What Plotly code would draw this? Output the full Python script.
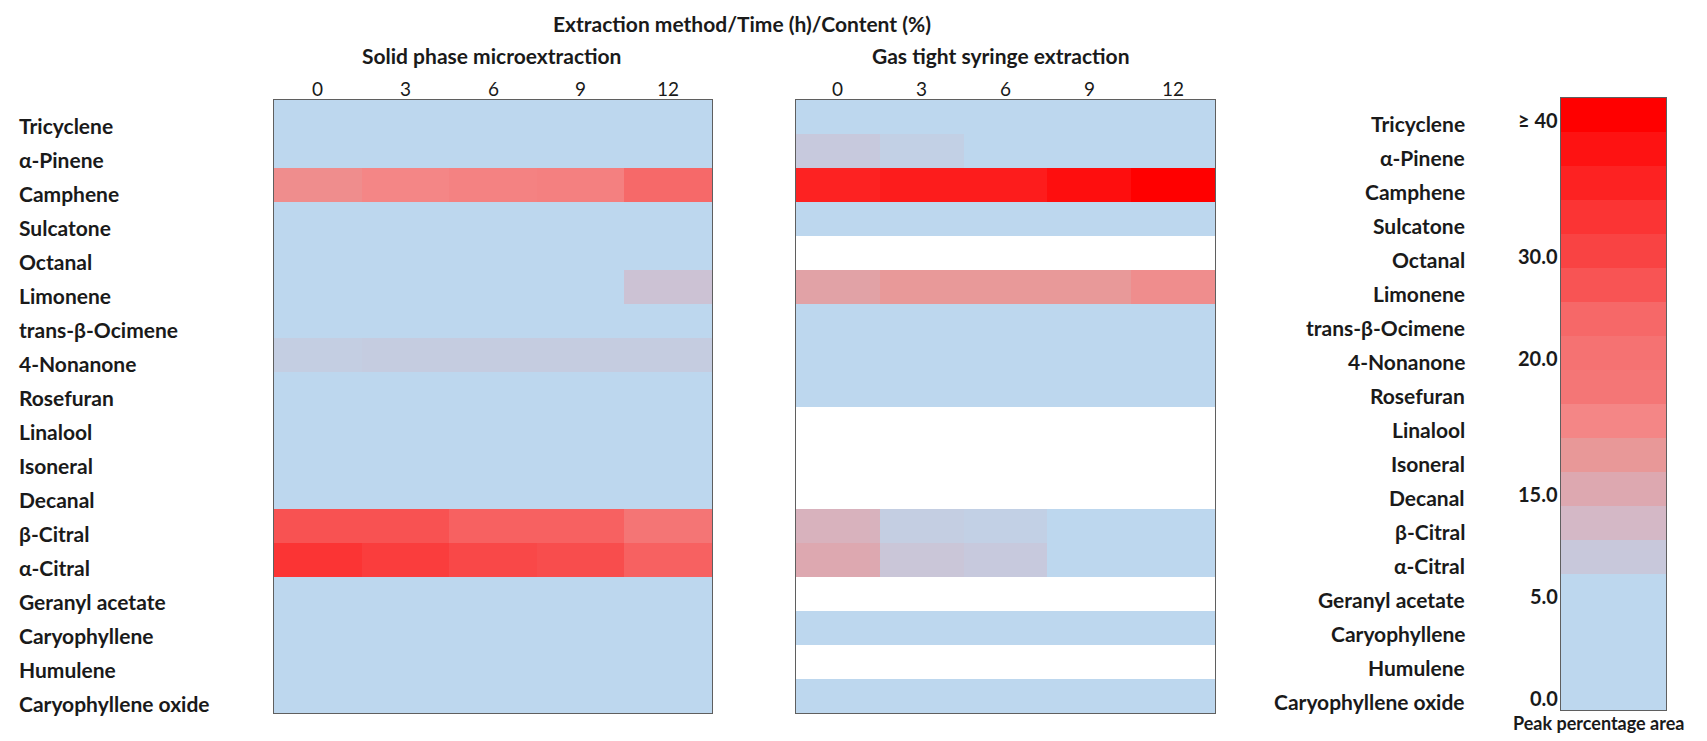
import plotly.graph_objects as go

compounds = ["Tricyclene", "α-Pinene", "Camphene", "Sulcatone", "Octanal", "Limonene",
             "trans-β-Ocimene", "4-Nonanone", "Rosefuran", "Linalool", "Isoneral", "Decanal",
             "β-Citral", "α-Citral", "Geranyl acetate", "Caryophyllene", "Humulene",
             "Caryophyllene oxide"]
times = ["0", "3", "6", "9", "12"]
N = None

# Peak percentage area (%); None = not detected
spme = [
    [1.0, 1.0, 1.0, 1.0, 1.0],
    [2.0, 2.0, 2.0, 2.0, 2.0],
    [17.0, 17.5, 17.8, 18.0, 23.0],
    [1.0, 1.0, 1.0, 1.0, 1.0],
    [1.0, 1.0, 1.0, 1.0, 1.0],
    [3.0, 3.0, 3.0, 3.0, 9.5],
    [1.0, 1.0, 1.0, 1.0, 1.0],
    [7.0, 7.5, 7.5, 7.5, 7.5],
    [1.0, 1.0, 1.0, 1.0, 1.0],
    [2.0, 2.0, 2.0, 2.0, 2.0],
    [1.0, 1.0, 1.0, 1.0, 1.0],
    [1.0, 1.0, 1.0, 1.0, 1.0],
    [27.0, 27.0, 24.5, 24.5, 19.0],
    [32.5, 31.0, 29.0, 28.0, 24.5],
    [1.0, 1.0, 1.0, 1.0, 1.0],
    [1.0, 1.0, 1.0, 1.0, 1.0],
    [1.0, 1.0, 1.0, 1.0, 1.0],
    [1.0, 1.0, 1.0, 1.0, 1.0],
]
gtse = [
    [2.0, 2.0, 2.0, 2.0, 2.0],
    [8.0, 6.5, 4.0, 4.0, 4.0],
    [35.0, 36.0, 36.0, 38.0, 42.0],
    [1.0, 1.0, 1.0, 1.0, 1.0],
    [N, N, N, N, N],
    [15.5, 16.2, 16.2, 16.2, 17.0],
    [1.0, 1.0, 1.0, 1.0, 1.0],
    [1.0, 1.0, 1.0, 1.0, 1.0],
    [1.0, 1.0, 1.0, 1.0, 1.0],
    [N, N, N, N, N],
    [N, N, N, N, N],
    [N, N, N, N, N],
    [13.0, 7.0, 6.5, 4.0, 4.0],
    [15.0, 8.8, 8.0, 4.0, 4.0],
    [N, N, N, N, N],
    [1.0, 1.0, 1.0, 1.0, 1.0],
    [N, N, N, N, N],
    [1.0, 1.0, 1.0, 1.0, 1.0],
]

# stepped scale shown at the right (top to bottom)
legend_levels = [40, 37.5, 35, 32.5, 30, 26.7, 23.3, 20, 18.75, 17.5, 16.25, 15,
                 11.7, 8.3, 5, 3.3, 1.7, 0]
legend_colors = ["#FF0000", "#FE1212", "#FD2222", "#FB3434", "#F94343", "#F85454",
                 "#F66868", "#F57272", "#F47676", "#F48686", "#E89898", "#DDA8B0",
                 "#D4B8C6", "#C8C8DB", "#BDD7EE", "#BDD7EE", "#BDD7EE", "#BDD7EE"]
tick_labels = {0: "≥ 40", 4: "30.0", 7: "20.0", 11: "15.0", 14: "5.0", 17: "0.0"}
ZMAX = 40.0

colorscale = [[lv / ZMAX, c] for lv, c in zip(legend_levels[::-1], legend_colors[::-1])]

FONT = "Lato, 'Open Sans', sans-serif"
TXT = "#1a1a1a"
OFF = 8  # page body margin
W, H = 1707 - 2 * OFF, 741 - 2 * OFF


def px_x(p):
    return (p - OFF) / W


def px_y(p):
    return 1 - (p - OFF) / H


nrow = len(compounds)
yrange = [nrow - 0.5, -0.5]

fig = go.Figure()
fig.add_trace(go.Heatmap(z=spme, x=list(range(5)), y=compounds, xaxis="x", yaxis="y",
                         colorscale=colorscale, zmin=0, zmax=ZMAX, showscale=False,
                         hoverongaps=False))
fig.add_trace(go.Heatmap(z=gtse, x=list(range(5)), y=compounds, xaxis="x2", yaxis="y2",
                         colorscale=colorscale, zmin=0, zmax=ZMAX, showscale=False,
                         hoverongaps=False))
fig.add_trace(go.Heatmap(z=[[lv] for lv in legend_levels], x=[0], y=compounds,
                         xaxis="x3", yaxis="y3", colorscale=colorscale, zmin=0, zmax=ZMAX,
                         showscale=False))

ydom = [px_y(713), px_y(100)]
frame = dict(showline=True, mirror=True, linecolor="#5f5f5f", linewidth=1,
             showgrid=False, zeroline=False, automargin=False)
xtop = dict(side="top", showticklabels=False, ticks="", range=[-0.5, 4.5],
            autorange=False, **frame)
yhid = dict(showticklabels=False, ticks="", type="category", range=yrange,
            autorange=False, **frame)

fig.update_layout(
    width=W, height=H, margin=dict(l=0, r=0, t=0, b=0),
    paper_bgcolor="white", plot_bgcolor="white", showlegend=False,
    font=dict(family=FONT, color=TXT),
    xaxis=dict(domain=[px_x(274), px_x(712)], anchor="y", **xtop),
    yaxis=dict(domain=ydom, anchor="x", **yhid),
    xaxis2=dict(domain=[px_x(796), px_x(1215)], anchor="y2", **xtop),
    yaxis2=dict(domain=ydom, anchor="x2", **yhid),
    xaxis3=dict(domain=[px_x(1561), px_x(1666)], anchor="y3", showticklabels=False,
                ticks="", range=[-0.5, 0.5], autorange=False, **frame),
    yaxis3=dict(domain=[px_y(710), px_y(98)], anchor="x3", **yhid),
)

lab_font = dict(family=FONT, size=21, color=TXT, weight="bold")
ann = []
for i, name in enumerate(compounds):
    ann.append(dict(x=px_x(17), xref="paper", y=i, yref="y", text=name, showarrow=False,
                    xanchor="left", yanchor="middle", yshift=-8, font=lab_font))
    ann.append(dict(x=px_x(1467), xref="paper", y=i, yref="y3", text=name, showarrow=False,
                    xanchor="right", yanchor="middle", yshift=-8, font=lab_font))
for xr in ["x", "x2"]:
    for j, t in enumerate(times):
        ann.append(dict(x=j, xref=xr, y=px_y(88), yref="paper", text=t, showarrow=False,
                        xanchor="center", yanchor="middle",
                        font=dict(family=FONT, size=19, color=TXT)))
for i, t in tick_labels.items():
    ann.append(dict(x=px_x(1560), xref="paper", y=i, yref="y3", text=t, showarrow=False,
                    xanchor="right", yanchor="middle", yshift=-5,
                    font=dict(family=FONT, size=20, color=TXT, weight="bold")))
ann.append(dict(x=px_x(742), y=px_y(23), xref="paper", yref="paper",
                text="Extraction method/Time (h)/Content (%)", showarrow=False,
                xanchor="center", yanchor="middle",
                font=dict(family=FONT, size=21, color=TXT, weight="bold")))
for xc, txt in [(492, "Solid phase microextraction"), (1001, "Gas tight syringe extraction")]:
    ann.append(dict(x=px_x(xc), y=px_y(55), xref="paper", yref="paper", text=txt,
                    showarrow=False, xanchor="center", yanchor="middle",
                    font=dict(family=FONT, size=21, color=TXT, weight="bold")))
ann.append(dict(x=px_x(1598), y=px_y(723), xref="paper", yref="paper",
                text="Peak percentage area", showarrow=False,
                xanchor="center", yanchor="middle",
                font=dict(family=FONT, size=18, color=TXT, weight="bold")))
fig.update_layout(annotations=ann)

fig.write_html("out.html")
